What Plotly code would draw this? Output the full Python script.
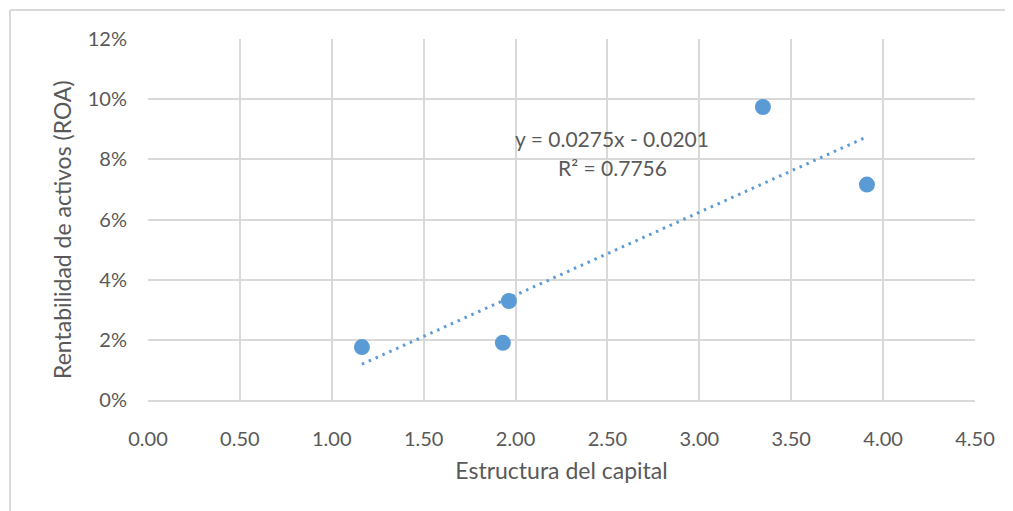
import plotly.graph_objects as go

# Data
estructura_capital = [1.164, 1.931, 1.964, 3.346, 3.912]
roa = [0.0176, 0.0190, 0.0329, 0.0974, 0.0716]
trend_slope = 0.0275
trend_intercept = -0.0201
eq_label = "y = 0.0275x - 0.0201"
r2_label = "R² = 0.7756"
x_ticks = [0, 0.5, 1.0, 1.5, 2.0, 2.5, 3.0, 3.5, 4.0, 4.5]
y_ticks = [0, 0.02, 0.04, 0.06, 0.08, 0.10, 0.12]

x_min, x_max = min(estructura_capital), max(estructura_capital)
trend_x = [x_min, x_max]
trend_y = [trend_slope * v + trend_intercept for v in trend_x]

FONT = "Lato"
TXT = "#595959"
GRID = "#D9D9D9"
BLUE = "#5B9BD5"

# plot area in page pixels: x 148..975, y 39..400 ; page body offset 8px
OFF = 8
L, T = 148 - OFF, 39 - OFF
PW, PH = 827, 361

fig = go.Figure()
fig.add_trace(go.Scatter(
    x=trend_x, y=trend_y, mode="lines",
    line=dict(color=BLUE, width=3, dash="2.5px,5px"),
    showlegend=False, hoverinfo="skip"))
fig.add_trace(go.Scatter(
    x=estructura_capital, y=roa, mode="markers",
    marker=dict(color=BLUE, size=16, line=dict(width=0)),
    showlegend=False))

fig.add_annotation(x=2.525, y=0.0870, xref="x", yref="y", text=eq_label,
                   showarrow=False, font=dict(family=FONT, size=21, color=TXT))
fig.add_annotation(x=2.525, y=0.0774, xref="x", yref="y", text=r2_label,
                   showarrow=False, font=dict(family=FONT, size=21, color=TXT))

# y axis title placed as in the reference
fig.add_annotation(x=(62 - 148) / PW, y=(400 - 230) / PH, xref="paper", yref="paper",
                   text="Rentabilidad de activos (ROA)", textangle=-90, showarrow=False,
                   xanchor="center", yanchor="middle",
                   font=dict(family=FONT, size=23, color=TXT))

# outer chart border (left and top)
fig.add_shape(type="line", xref="paper", yref="paper",
              x0=(10 - 148) / PW, x1=(1013 - 148) / PW,
              y0=(400 - 10) / PH, y1=(400 - 10) / PH,
              line=dict(color=GRID, width=2))
fig.add_shape(type="line", xref="paper", yref="paper",
              x0=(10 - 148) / PW, x1=(10 - 148) / PW,
              y0=(400 - 10) / PH, y1=(400 - 515) / PH,
              line=dict(color=GRID, width=2))

fig.update_layout(
    width=1013, height=511,
    margin=dict(l=L, r=1013 - L - PW, t=T, b=511 - T - PH),
    paper_bgcolor="white", plot_bgcolor="white",
    font=dict(family=FONT, size=20, color=TXT),
    xaxis=dict(range=[0, 4.5], tickvals=x_ticks, tickformat=".2f",
               showgrid=True, gridcolor=GRID, gridwidth=1.5,
               zeroline=False, showline=True, linecolor=GRID, linewidth=1.5,
               mirror=False, ticks="", ticklen=0, ticklabelstandoff=20,
               title=dict(text="Estructura del capital", font=dict(size=23, color=TXT), standoff=14),
               tickfont=dict(size=20, color=TXT)),
    yaxis=dict(range=[0, 0.12], tickvals=y_ticks, tickformat=".0%",
               showgrid=True, gridcolor=GRID, gridwidth=1.5,
               zeroline=False, showline=False, ticks="", ticklabelstandoff=20,
               tickfont=dict(size=20, color=TXT)),
)

fig.write_html("out.html")
